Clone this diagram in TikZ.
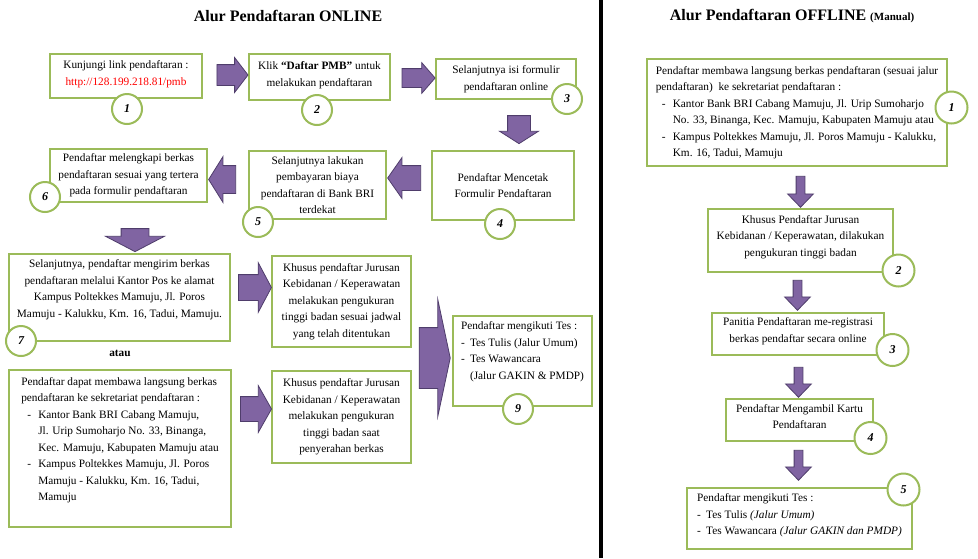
\documentclass[tikz,border=0pt]{standalone}
\usepackage{fontspec}
\setmainfont{Liberation Serif}
\usetikzlibrary{shapes.arrows}

\definecolor{boxgreen}{HTML}{9BBB59}
\definecolor{arrowfill}{HTML}{8064A2}
\definecolor{arrowline}{HTML}{4F3D6B}

\newcommand{\listdash}{\makebox[17pt][l]{\hspace{6pt}-}}
\newcommand{\listgap}{\hspace*{17pt}}
\newcommand{\shortdash}{\makebox[9pt][l]{-}}
\newcommand{\lift}[1]{\rule[-#1]{0pt}{#1}}

\begin{document}
\begin{tikzpicture}[x=1pt,y=-1pt,
  box/.style={draw=boxgreen,line width=2pt,fill=white,inner sep=0pt,align=center,
    font=\fontsize{11.3}{16.5}\selectfont},
  num/.style={circle,draw=boxgreen,line width=2pt,fill=white,minimum size=30pt,inner sep=0pt,
    font=\fontsize{12}{12}\selectfont\bfseries\itshape},
  blk/.style={single arrow,draw=arrowline,line width=0.8pt,fill=arrowfill,inner xsep=0pt},
  title/.style={font=\fontsize{16}{18}\selectfont\bfseries}]
\useasboundingbox (0,0) rectangle (978,558);
\fill[white] (0,0) rectangle (978,558);
\fill[black] (599,0) rectangle (603,558);

% online
\node[title] (t1) at (288,16) {Alur Pendaftaran ONLINE};

\node[box,minimum width=152pt,minimum height=44pt] (b1) at (126,76)
  {Kunjungi link pendaftaran :\\ \textcolor{red}{http://128.199.218.81/pmb}\lift{6pt}};
\node[box,minimum width=141pt,minimum height=46pt] (b2) at (319.5,77)
  {Klik \textbf{“Daftar PMB”} untuk\\ melakukan pendaftaran\lift{6pt}};
\node[box,minimum width=140pt,minimum height=40pt] (b3) at (506,79)
  {Selanjutnya isi formulir\\ pendaftaran online};
\node[box,minimum width=142pt,minimum height=69pt] (b4) at (503,185.5)
  {Pendaftar Mencetak\\ Formulir Pendaftaran};
\node[box,minimum width=137pt,minimum height=68pt] (b5) at (317.5,185)
  {Selanjutnya lakukan\\ pembayaran biaya\\ pendaftaran di Bank BRI\\ terdekat};
\node[box,minimum width=157pt,minimum height=53pt] (b6) at (128.5,175.5)
  {Pendaftar melengkapi berkas\\ pendaftaran sesuai yang tertera\\ pada formulir pendaftaran};
\node[box,minimum width=221pt,minimum height=87pt] (b7) at (119.5,297.5)
  {Selanjutnya, pendaftar mengirim berkas\\ pendaftaran melalui Kantor Pos ke alamat\\
   Kampus Poltekkes Mamuju, Jl. Poros\\ Mamuju - Kalukku, Km. 16, Tadui, Mamuju.\lift{18pt}};
\node[box,minimum width=139pt,minimum height=91pt] (b8) at (341.5,301.5)
  {Khusus pendaftar Jurusan\\ Kebidanan / Keperawatan\\ melakukan pengukuran\\
   tinggi badan sesuai jadwal\\ yang telah ditentukan};
\node[box,align=left,minimum width=222pt,minimum height=157pt] (b7b) at (120,448.5)
  {Pendaftar dapat membawa langsung berkas\\ pendaftaran ke sekretariat pendaftaran :\\
   \listdash Kantor Bank BRI Cabang Mamuju,\\ \listgap Jl. Urip Sumoharjo No. 33, Binanga,\\
   \listgap Kec. Mamuju, Kabupaten Mamuju atau\\ \listdash Kampus Poltekkes Mamuju, Jl. Poros\\
   \listgap Mamuju - Kalukku, Km. 16, Tadui,\\ \listgap Mamuju\lift{19pt}};
\node[box,minimum width=139pt,minimum height=92pt] (b8b) at (341.5,417)
  {Khusus pendaftar Jurusan\\ Kebidanan / Keperawatan\\ melakukan pengukuran\\
   tinggi badan saat\\ penyerahan berkas};
\node[box,align=left,minimum width=139pt,minimum height=90pt] (b9) at (522.5,361)
  {Pendaftar mengikuti Tes :\\ \shortdash Tes Tulis (Jalur Umum)\\ \shortdash Tes Wawancara\\
   \hspace*{9pt}(Jalur GAKIN \& PMDP)\lift{21pt}};

\node[font=\fontsize{11.3}{14}\selectfont\bfseries] (atau) at (120,353) {atau};

\node[blk,inner ysep=10pt,minimum height=31pt,minimum width=34pt,single arrow head extend=7pt,
  single arrow tip angle=105] (a12) at (228.5,75) {};
\node[blk,inner ysep=9pt,minimum height=33pt,minimum width=30pt,single arrow head extend=6pt,
  single arrow tip angle=98] (a23) at (414.5,78) {};
\node[blk,inner ysep=11pt,minimum height=28pt,minimum width=38pt,single arrow head extend=8pt,
  single arrow tip angle=115,rotate=270] (a34) at (519,126) {};
\node[blk,inner ysep=12pt,minimum height=33pt,minimum width=40pt,single arrow head extend=8pt,
  single arrow tip angle=110,rotate=180] (a45) at (408.5,178) {};
\node[blk,inner ysep=13.5pt,minimum height=27pt,minimum width=45pt,single arrow head extend=9pt,
  single arrow tip angle=116,rotate=180] (a56) at (226.5,179.5) {};
\node[blk,inner ysep=13.5pt,minimum height=23pt,minimum width=58pt,single arrow head extend=15.5pt,
  single arrow tip angle=125,rotate=270] (a67) at (135,236.5) {};
\node[blk,inner ysep=12.5pt,minimum height=33pt,minimum width=49pt,single arrow head extend=12pt,
  single arrow tip angle=124] (a78) at (251.5,287.5) {};
\node[blk,inner ysep=12pt,minimum height=31pt,minimum width=46pt,single arrow head extend=11pt,
  single arrow tip angle=121] (a7b8b) at (252.5,409) {};
\node[blk,inner ysep=30pt,minimum height=31pt,minimum width=116pt,single arrow head extend=28pt,
  single arrow tip angle=156] (a89) at (431.5,358) {};

\node[num] (c1) at (127,109) {1};
\node[num] (c2) at (317,110) {2};
\node[num] (c3) at (567,99) {3};
\node[num] (c4) at (500,224) {4};
\node[num] (c5) at (258,222) {5};
\node[num] (c6) at (45,197) {6};
\node[num] (c7) at (21,341) {7};
\node[num] (c9) at (518,409) {9};

% offline
\node[title] (t2) at (792,16) {Alur Pendaftaran OFFLINE {\fontsize{11}{12}\selectfont(Manual)}};

\node[box,align=left,minimum width=300pt,minimum height=107pt] (o1) at (797,112.5)
  {Pendaftar membawa langsung berkas pendaftaran (sesuai jalur\\
   pendaftaran)\ \ ke sekretariat pendaftaran :\\
   \listdash Kantor Bank BRI Cabang Mamuju, Jl. Urip Sumoharjo\\
   \listgap No. 33, Binanga, Kec. Mamuju, Kabupaten Mamuju atau\\
   \listdash Kampus Poltekkes Mamuju, Jl. Poros Mamuju - Kalukku,\\
   \listgap Km. 16, Tadui, Mamuju};
\node[box,minimum width=185pt,minimum height=63pt] (o2) at (800.5,240.5)
  {Khusus Pendaftar Jurusan\\ Kebidanan / Keperawatan, dilakukan\\ pengukuran tinggi badan\lift{9pt}};
\node[box,minimum width=172pt,minimum height=42pt] (o3) at (798,334)
  {Panitia Pendaftaran me-registrasi\\ berkas pendaftar secara online\lift{8pt}};
\node[box,minimum width=147pt,minimum height=42pt] (o4) at (799.5,420)
  {Pendaftar Mengambil Kartu\\ Pendaftaran\lift{7pt}};
\node[box,align=left,minimum width=225pt,minimum height=61pt] (o5) at (799.5,518.5)
  {Pendaftar mengikuti Tes :\\ \shortdash Tes Tulis \textit{(Jalur Umum)}\\
   \shortdash Tes Wawancara \textit{(Jalur GAKIN dan PMDP)}\lift{8pt}};

\node[blk,inner ysep=4pt,minimum height=31pt,minimum width=25pt,single arrow head extend=8.5pt,
  single arrow tip angle=88,rotate=270] (oa12) at (800.5,189.5) {};
\node[blk,inner ysep=4pt,minimum height=30pt,minimum width=25pt,single arrow head extend=8.5pt,
  single arrow tip angle=88,rotate=270] (oa23) at (797.5,293) {};
\node[blk,inner ysep=4pt,minimum height=30pt,minimum width=25pt,single arrow head extend=8.5pt,
  single arrow tip angle=88,rotate=270] (oa34) at (798.5,380) {};
\node[blk,inner ysep=4pt,minimum height=30pt,minimum width=25pt,single arrow head extend=8.5pt,
  single arrow tip angle=88,rotate=270] (oa45) at (798.5,463) {};

\node[num,minimum size=32pt] (k1) at (951.5,107.5) {1};
\node[num,minimum size=32pt] (k2) at (898.5,270.5) {2};
\node[num,minimum size=32pt] (k3) at (892.5,350) {3};
\node[num,minimum size=32pt] (k4) at (870.5,438) {4};
\node[num,minimum size=32pt] (k5) at (903.5,489.5) {5};
\end{tikzpicture}
\end{document}
